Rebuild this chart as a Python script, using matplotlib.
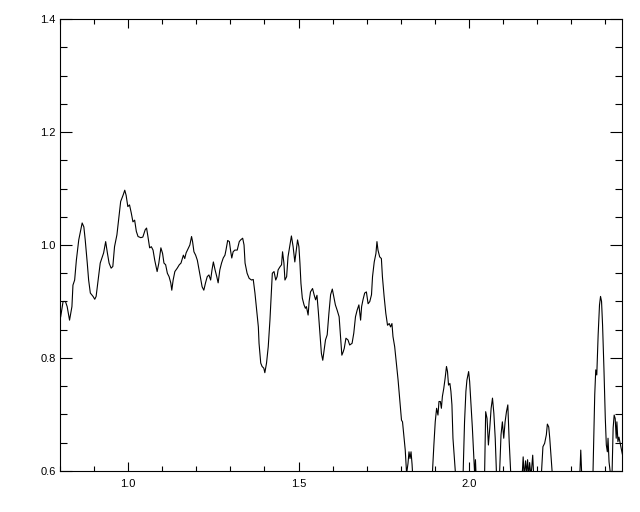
import matplotlib
matplotlib.use("Agg")
import matplotlib.pyplot as plt
from matplotlib.ticker import MultipleLocator, FormatStrFormatter

wavelength = [
    0.802, 0.809, 0.816, 0.821, 0.828, 0.835, 0.838, 0.843, 0.848, 0.855,
    0.861, 0.865, 0.870, 0.874, 0.880, 0.884, 0.889, 0.897, 0.902, 0.906,
    0.911, 0.918, 0.923, 0.928, 0.934, 0.939, 0.944, 0.950, 0.955, 0.960,
    0.967, 0.973, 0.978, 0.985, 0.990, 0.994, 0.999, 1.004, 1.009, 1.014,
    1.019, 1.024, 1.029, 1.037, 1.043, 1.050, 1.054, 1.058, 1.063, 1.068,
    1.073, 1.078,
    1.085, 1.090, 1.096, 1.101, 1.105, 1.110, 1.115, 1.120, 1.125, 1.128,
    1.132, 1.137, 1.144, 1.150, 1.155, 1.162, 1.166, 1.170, 1.174, 1.181,
    1.186, 1.189, 1.193, 1.198, 1.203, 1.208, 1.213, 1.217, 1.222, 1.227,
    1.232, 1.237, 1.242, 1.246, 1.250, 1.255, 1.260, 1.264, 1.269, 1.274,
    1.279, 1.284, 1.287, 1.292, 1.297, 1.301, 1.304, 1.308, 1.313, 1.320,
    1.326, 1.330, 1.336, 1.340, 1.343, 1.349, 1.355,
    1.362, 1.367, 1.372, 1.377, 1.382, 1.384, 1.389, 1.393, 1.398, 1.401,
    1.406, 1.411, 1.416, 1.419, 1.423, 1.428, 1.433, 1.437, 1.440, 1.445,
    1.450, 1.453, 1.457, 1.460, 1.465, 1.469, 1.474, 1.479, 1.484, 1.489,
    1.494, 1.497, 1.501, 1.504, 1.507, 1.511, 1.516, 1.520, 1.523, 1.528,
    1.531, 1.535, 1.541, 1.546, 1.550, 1.554, 1.558, 1.562, 1.567, 1.571,
    1.575, 1.579, 1.584, 1.589, 1.594, 1.599, 1.604, 1.608, 1.613, 1.619,
    1.623, 1.627, 1.631,
    1.634, 1.639, 1.645, 1.650, 1.657, 1.662, 1.667, 1.672, 1.677, 1.682,
    1.685, 1.689, 1.694, 1.699, 1.704, 1.709, 1.714, 1.717, 1.722, 1.727,
    1.730, 1.733, 1.738, 1.743, 1.746, 1.751, 1.756, 1.761, 1.766, 1.770,
    1.774, 1.777, 1.782, 1.787, 1.792, 1.797, 1.802, 1.805, 1.809, 1.813,
    1.817, 1.821, 1.824, 1.827, 1.830, 1.833, 1.836, 1.850, 1.870, 1.890,
    1.893, 1.897, 1.901, 1.905, 1.909, 1.912, 1.916, 1.919, 1.922, 1.926,
    1.930, 1.934, 1.937, 1.940, 1.944, 1.947, 1.950, 1.953, 1.957, 1.961,
    1.970, 1.980, 1.983, 1.987, 1.991, 1.994, 1.999, 2.002, 2.006, 2.010,
    2.014, 2.017, 2.019, 2.021, 2.030, 2.040, 2.046, 2.049, 2.053, 2.057,
    2.061, 2.065, 2.069, 2.073, 2.077, 2.081, 2.085, 2.090, 2.094, 2.098,
    2.102, 2.106, 2.110, 2.114, 2.118, 2.123, 2.130, 2.145, 2.155, 2.159,
    2.162, 2.166, 2.169, 2.172, 2.175, 2.178, 2.182, 2.187, 2.190, 2.200,
    2.213, 2.217, 2.222, 2.227, 2.230, 2.234, 2.237, 2.242, 2.245, 2.260,
    2.280, 2.300, 2.325, 2.328, 2.331, 2.340, 2.355, 2.364, 2.369, 2.372,
    2.375, 2.379, 2.383, 2.386, 2.389, 2.392, 2.396, 2.400, 2.403, 2.406,
    2.408, 2.411, 2.416, 2.420, 2.423, 2.426, 2.429, 2.432, 2.434, 2.437,
    2.440, 2.445, 2.450,
]

flux = [
    0.873, 0.900, 0.900, 0.891, 0.867, 0.891, 0.929, 0.938, 0.973, 1.009,
    1.027, 1.039, 1.032, 1.009, 0.968, 0.938, 0.915, 0.909, 0.904, 0.909,
    0.933, 0.968, 0.977, 0.986, 1.006, 0.986, 0.968, 0.959, 0.962, 0.997,
    1.018, 1.050, 1.077, 1.088, 1.097, 1.088, 1.068, 1.071, 1.057, 1.041,
    1.044, 1.024, 1.015, 1.013, 1.014, 1.027, 1.030, 1.015, 0.995, 0.997,
    0.991, 0.973,
    0.953, 0.968, 0.995, 0.985, 0.968, 0.965, 0.950, 0.944, 0.933, 0.920,
    0.938, 0.953, 0.959, 0.965, 0.968, 0.982, 0.976, 0.986, 0.991, 1.000,
    1.015, 1.006, 0.988, 0.982, 0.973, 0.956, 0.938, 0.926, 0.920, 0.933,
    0.944, 0.947, 0.938, 0.956, 0.970, 0.956, 0.944, 0.933, 0.956, 0.968,
    0.977, 0.982, 0.991, 1.008, 1.006, 0.988, 0.977, 0.988, 0.991, 0.991,
    1.006, 1.009, 1.012, 1.000, 0.968, 0.950, 0.941,
    0.938, 0.939, 0.915, 0.885, 0.855, 0.826, 0.791, 0.785, 0.782, 0.774,
    0.791, 0.820, 0.867, 0.903, 0.950, 0.953, 0.938, 0.944, 0.956, 0.961,
    0.965, 0.988, 0.968, 0.938, 0.944, 0.979, 0.997, 1.016, 0.997, 0.970,
    0.994, 1.009, 0.997, 0.968, 0.932, 0.906, 0.894, 0.888, 0.891, 0.876,
    0.900, 0.917, 0.923, 0.911, 0.903, 0.911, 0.882, 0.850, 0.808, 0.796,
    0.814, 0.832, 0.841, 0.879, 0.912, 0.922, 0.906, 0.894, 0.885, 0.873,
    0.838, 0.805, 0.811,
    0.817, 0.835, 0.832, 0.823, 0.826, 0.844, 0.873, 0.885, 0.894, 0.867,
    0.891, 0.903, 0.915, 0.917, 0.896, 0.900, 0.912, 0.944, 0.970, 0.985,
    1.006, 0.991, 0.979, 0.976, 0.944, 0.909, 0.879, 0.858, 0.861, 0.855,
    0.861, 0.838, 0.820, 0.791, 0.761, 0.726, 0.690, 0.687, 0.661, 0.637,
    0.595, 0.613, 0.634, 0.622, 0.634, 0.612, 0.580, 0.550, 0.540, 0.560,
    0.600, 0.646, 0.687, 0.711, 0.699, 0.723, 0.723, 0.711, 0.732, 0.746,
    0.764, 0.785, 0.776, 0.752, 0.755, 0.741, 0.717, 0.658, 0.623, 0.590,
    0.550, 0.560, 0.600, 0.687, 0.741, 0.761, 0.776, 0.758, 0.717, 0.676,
    0.629, 0.590, 0.620, 0.590, 0.550, 0.560, 0.600, 0.705, 0.693, 0.646,
    0.676, 0.711, 0.729, 0.702, 0.658, 0.590, 0.560, 0.600, 0.664, 0.687,
    0.658, 0.687, 0.705, 0.717, 0.652, 0.590, 0.550, 0.560, 0.580, 0.625,
    0.590, 0.618, 0.595, 0.620, 0.590, 0.615, 0.590, 0.628, 0.590, 0.550,
    0.600, 0.643, 0.649, 0.664, 0.683, 0.678, 0.658, 0.616, 0.590, 0.560,
    0.550, 0.560, 0.590, 0.637, 0.590, 0.550, 0.560, 0.600, 0.735, 0.779,
    0.770, 0.841, 0.894, 0.909, 0.900, 0.858, 0.781, 0.693, 0.646, 0.634,
    0.658, 0.616, 0.590, 0.600, 0.676, 0.699, 0.693, 0.658, 0.687, 0.652,
    0.660, 0.645, 0.630,
]

x_range = (0.8, 2.449)
y_range = (0.6, 1.4)

plt.rcParams['font.family'] = ['Liberation Sans', 'DejaVu Sans']

fig = plt.figure(figsize=(6.4, 5.12), dpi=100)
ax = fig.add_axes([60 / 640, 1 - 471 / 512, 562 / 640, 452 / 512])

ax.plot(wavelength, flux, color='black', linewidth=0.8)

ax.set_xlim(*x_range)
ax.set_ylim(*y_range)

ax.xaxis.set_major_locator(MultipleLocator(0.5))
ax.xaxis.set_minor_locator(MultipleLocator(0.1))
ax.yaxis.set_major_locator(MultipleLocator(0.2))
ax.yaxis.set_minor_locator(MultipleLocator(0.05))
ax.xaxis.set_major_formatter(FormatStrFormatter('%.1f'))
ax.yaxis.set_major_formatter(FormatStrFormatter('%.1f'))

ax.tick_params(axis='x', which='major', direction='in', length=6.5, width=0.8,
               top=True, bottom=True, labelsize=8, pad=6)
ax.tick_params(axis='x', which='minor', direction='in', length=3.6, width=0.8,
               top=True, bottom=True)
ax.tick_params(axis='y', which='major', direction='in', length=8.5, width=0.8,
               left=True, right=True, labelsize=8, pad=3)
ax.tick_params(axis='y', which='minor', direction='in', length=5, width=0.8,
               left=True, right=True)

for sp in ax.spines.values():
    sp.set_linewidth(0.8)

fig.savefig('out.png', dpi=100)
